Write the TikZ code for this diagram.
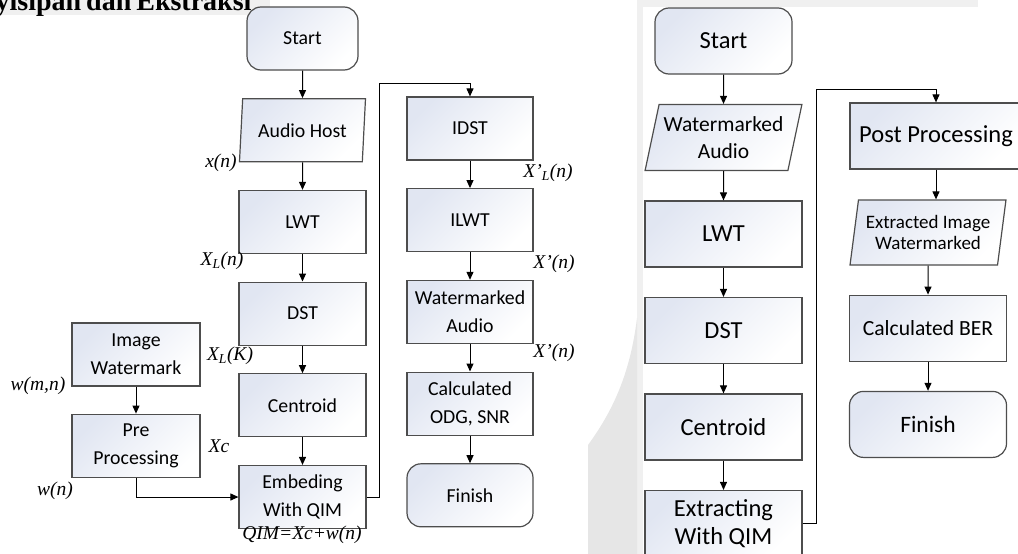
\documentclass[tikz,border=0pt]{standalone}
\usepackage{fontspec}
\setmainfont{Liberation Serif}
\newfontfamily\calfont{Carlito}
\usetikzlibrary{positioning,shapes.geometric,arrows.meta}

\definecolor{boxtint}{HTML}{E1E6F2}
\definecolor{boxline}{HTML}{4D4D4D}
\definecolor{pagegray}{HTML}{F0F0F0}
\definecolor{markgray}{HTML}{E6E6E6}

\begin{document}
\begin{tikzpicture}[x=1pt,y=-1pt,>={Triangle[length=8pt,width=7pt]},
                    node distance=27.5pt,line width=1pt,
                    flow box/.style={draw=boxline,line width=1.2pt,top color=boxtint,bottom color=white,
                                     shading angle=45,align=center,inner sep=2pt},
                    proc node/.style={flow box,rectangle,minimum width=127pt,minimum height=63pt,
                                      font=\calfont\fontsize{19.8pt}{28pt}\selectfont},
                    term node/.style={proc node,rounded corners=14pt,minimum width=111pt},
                    io node/.style={proc node,trapezium,trapezium stretches,inner xsep=-3pt,
                                    trapezium left angle=83,trapezium right angle=97},
                    big node/.style={proc node,minimum width=157pt,minimum height=66pt,
                                     font=\calfont\fontsize{24.5pt}{28pt}\selectfont},
                    sig label/.style={font=\itshape\fontsize{19.5pt}{22pt}\selectfont,inner sep=0pt}]
  \useasboundingbox (0,0) rectangle (1018,554);
  % page background
  \fill[pagegray] (0,0) rectangle (270,15);
  \fill[pagegray] (643,0) rectangle (978,7);
  \fill[pagegray] (637,0) rectangle (643,554);
  \fill[markgray] (588,554) -- (588,445) .. controls (612,412) and (630,375) .. (637,318) -- (637,554) -- cycle;
  \node[anchor=base east,inner sep=0pt,font=\bfseries\fontsize{28pt}{30pt}\selectfont] (head) at (252,10)
    {\spaceskip=5pt Penyisipan dan Ekstraksi};

  % embedding
  \node[term node] (start) at (302.5,38.5) {Start};
  \node[io node] (host) [below=of start] {Audio Host};
  \node[proc node] (lwt) [below=of host] {LWT};
  \node[proc node] (dst) [below=of lwt] {DST};
  \node[proc node] (cen) [below=of dst] {Centroid};
  \node[proc node] (emb) [below=of cen] {Embeding\\With QIM};
  \node[proc node,minimum width=128pt] (img) at (136,354.5) {Image\\Watermark};
  \node[proc node,minimum width=128pt] (pre) [below=27pt of img] {Pre\\Processing};
  \node[proc node,minimum width=126pt] (idst) at (470,128.5) {IDST};
  \node[proc node,minimum width=126pt] (ilwt) [below=of idst] {ILWT};
  \node[proc node,minimum width=126pt] (wma) [below=of ilwt] {Watermarked\\Audio};
  \node[proc node,minimum width=126pt] (calc) [below=of wma] {Calculated\\ODG, SNR};
  \node[term node,minimum width=126pt] (fin) [below=of calc] {Finish};
  \coordinate (jmp) at (379,83);

  \node[sig label] (xn) at (221,163) {x(n)};
  \node[sig label] (xln) at (222,261) {X\textsubscript{L}(n)};
  \node[sig label] (xlk) at (230,356) {X\textsubscript{L}(K)};
  \node[sig label] (xc) at (219,446) {Xc};
  \node[sig label] (qim) at (302,535) {QIM=Xc+w(n)};
  \node[sig label] (wmn) at (38,386) {w(m,n)};
  \node[sig label] (wn) at (55,491) {w(n)};
  \node[sig label] (xpl) at (548,173) {X’\textsubscript{L}(n)};
  \node[sig label] (xp1) at (554,264) {X’(n)};
  \node[sig label] (xp2) at (554,353) {X’(n)};

  \path[->] (start) edge (host) (host) edge (lwt) (lwt) edge (dst) (dst) edge (cen) (cen) edge (emb)
            (img) edge (pre)
            (idst) edge (ilwt) (ilwt) edge (wma) (wma) edge (calc) (calc) edge (fin);
  \draw[->] (pre.south) |- (emb.west);
  \draw[->] (emb.east) -| (jmp) -| (idst.north);

  % extraction
  \node[big node,rounded corners=14pt,minimum width=137pt] (xstart) at (723.5,41) {Start};
  \node[big node,trapezium,trapezium stretches,inner xsep=-3pt,trapezium left angle=75,trapezium right angle=105,
        font=\calfont\fontsize{21.5pt}{27pt}\selectfont] (xwma) [below=29.3pt of xstart] {Watermarked\\Audio};
  \node[big node] (xlwt) [below=29.3pt of xwma] {LWT};
  \node[big node] (xdst) [below=29.3pt of xlwt] {DST};
  \node[big node] (xcen) [below=29.3pt of xdst] {Centroid};
  \node[big node] (xext) [below=29.3pt of xcen] {Extracting\\With QIM};
  \node[big node,minimum width=172pt] (post) at (936,136) {Post Processing};
  \node[big node,trapezium,trapezium stretches,inner xsep=-3pt,trapezium left angle=79.5,trapezium right angle=100.5,
        minimum width=156pt,minimum height=65pt,
        font=\calfont\fontsize{19pt}{21.5pt}\selectfont] (xim) at (928,232.5) {Extracted Image\\Watermarked};
  \node[big node,minimum width=157pt,font=\calfont\fontsize{21.6pt}{26pt}\selectfont] (ber) [below=29pt of xim] {Calculated BER};
  \node[big node,rounded corners=14pt,font=\calfont\fontsize{23.5pt}{28pt}\selectfont] (xfin) [below=29pt of ber] {Finish};
  \coordinate (xjmp) at (816,89);

  \path[->] (xstart) edge (xwma) (xwma) edge (xlwt) (xlwt) edge (xdst) (xdst) edge (xcen) (xcen) edge (xext)
            (post) edge (post |- xim.north) (xim) edge (ber) (ber) edge (xfin);
  \draw[->] (xext.east) -| (xjmp) -| (post.north);
\end{tikzpicture}
\end{document}
